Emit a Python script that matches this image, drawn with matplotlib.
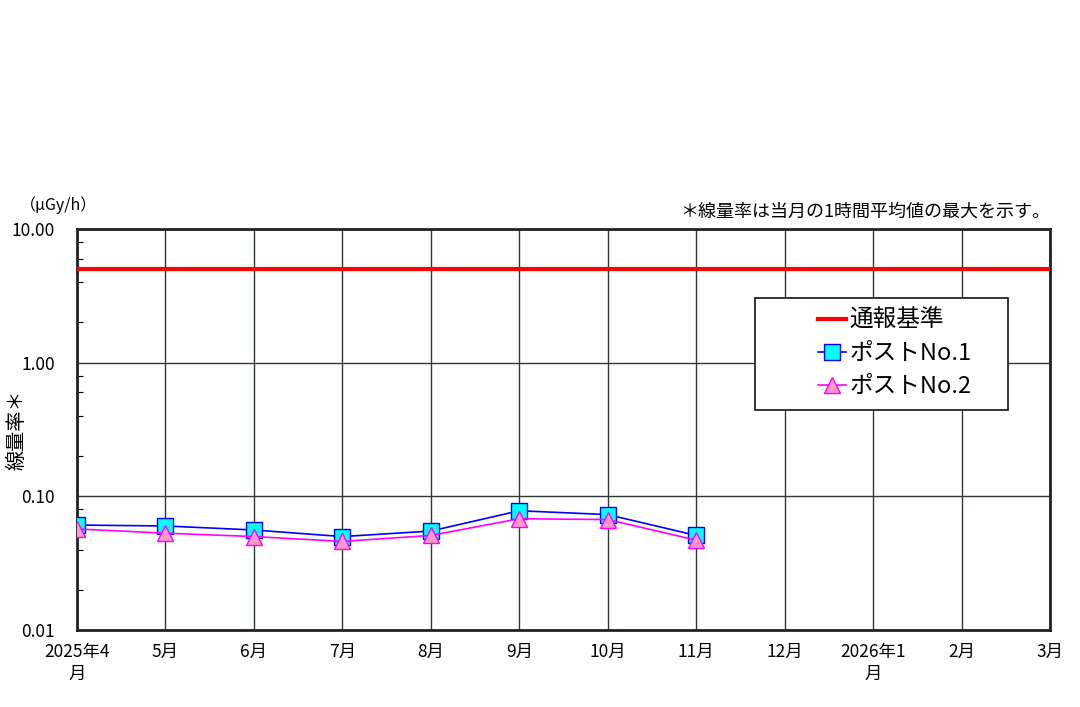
import matplotlib
matplotlib.use("Agg")
import matplotlib.pyplot as plt
from matplotlib.patches import Rectangle
from matplotlib.ticker import FixedLocator, LogLocator, NullFormatter

plt.rcParams['font.family'] = ['Noto Sans CJK JP', 'DejaVu Sans']

months = ["2025年4\n月", "5月", "6月", "7月", "8月", "9月", "10月", "11月",
          "12月", "2026年1\n月", "2月", "3月"]
post1 = [0.061, 0.060, 0.056, 0.050, 0.055, 0.078, 0.073, 0.051]
post2 = [0.057, 0.053, 0.050, 0.046, 0.051, 0.068, 0.067, 0.047]
threshold = 5.0
yticks = [0.01, 0.1, 1, 10]
ytick_labels = ["0.01", "0.10", "1.00", "10.00"]

fig = plt.figure(figsize=(10.8, 7.07), dpi=100)
ax = fig.add_axes([77/1080, 77/707, 973/1080, 401/707])

x = list(range(len(months)))
ax.plot([x[0] - 1, x[-1] + 1], [threshold, threshold], color='#ff0000', lw=3,
        label='通報基準', zorder=3)
ax.plot(x[:len(post1)], post1, color='#0000ff', lw=1.2, marker='s', ms=12,
        mfc='#00ffff', mec='#0000ff', mew=1, label='ポストNo.1', zorder=4)
ax.plot(x[:len(post2)], post2, color='#ff00ff', lw=1.2, marker='^', ms=11,
        mfc='#ff99cc', mec='#ff00ff', mew=1, label='ポストNo.2', zorder=5)

ax.set_yscale('log')
ax.set_ylim(0.01, 10)
ax.set_xlim(0, len(months) - 1)
ax.yaxis.set_major_locator(FixedLocator(yticks))
ax.set_yticklabels(ytick_labels, fontsize=12.5)
ax.yaxis.set_minor_locator(LogLocator(base=10, subs=(2, 4, 6, 8)))
ax.yaxis.set_minor_formatter(NullFormatter())
ax.tick_params(axis='y', which='minor', direction='in', length=4, width=0.8)
ax.tick_params(axis='y', which='major', length=0, pad=16)
ax.set_xticks(x)
ax.set_xticklabels(months, fontsize=12.5, linespacing=1.35)
ax.tick_params(axis='x', length=0, pad=9)

ax.grid(True, which='major', color='#2e3a2e', lw=1)
for s in ax.spines.values():
    s.set_linewidth(2)
    s.set_color('#222222')

fig.text(20/1080, 1 - 205/707, '（μGy/h）', fontsize=11.5, va='center', ha='left')
fig.text(1050/1080, 1 - 212/707, '＊線量率は当月の1時間平均値の最大を示す。',
         fontsize=13, va='center', ha='right')
fig.text(17/1080, 1 - 430/707, '線量率＊', fontsize=14.5, rotation=90,
         va='center', ha='center')

# legend box drawn separately so it can be wider than its entries
ax.add_patch(Rectangle((0.6968, 0.5486), 0.26, 0.2794, transform=ax.transAxes,
                       facecolor='white', edgecolor='#111111', lw=1.2, zorder=6))
leg = ax.legend(loc='upper left', bbox_to_anchor=(0.7615, 0.80),
                fontsize=17, frameon=False, handlelength=1.2,
                handletextpad=0.12, borderpad=0, labelspacing=0.42,
                borderaxespad=0)
leg.set_zorder(7)

fig.savefig('out.png', dpi=100, facecolor='white')
